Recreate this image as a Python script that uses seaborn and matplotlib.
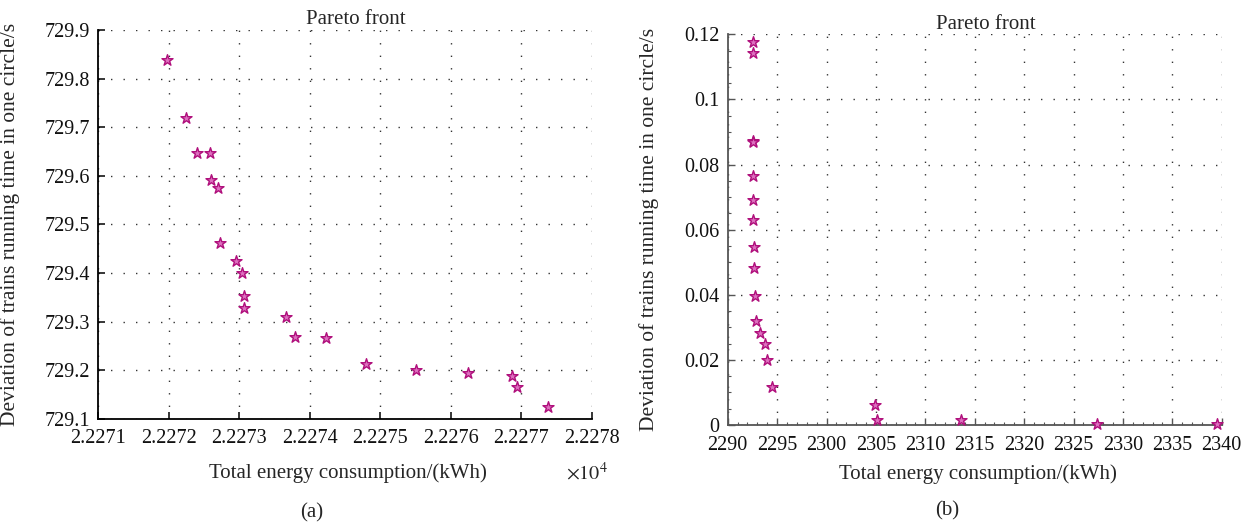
import numpy as np
import pandas as pd
import seaborn as sns
import matplotlib
matplotlib.use("Agg")
import matplotlib.pyplot as plt
from matplotlib.ticker import FuncFormatter, AutoMinorLocator

# Pareto front (a): total energy consumption (kWh) vs running-time deviation (s)
energy_a = [22271.973, 22272.251, 22272.402, 22272.586, 22272.600, 22272.700,
            22272.732, 22272.959, 22273.035, 22273.068, 22273.072, 22273.658,
            22273.795, 22274.229, 22274.796, 22275.500, 22276.245, 22276.868,
            22276.940, 22277.370]
deviation_a = [729.838, 729.719, 729.648, 729.648, 729.592, 729.576,
               729.462, 729.425, 729.400, 729.353, 729.328, 729.309,
               729.269, 729.266, 729.214, 729.200, 729.194, 729.188,
               729.165, 729.125]

# Pareto front (b)
energy_b = [2292.59, 2292.60, 2292.59, 2292.60, 2292.60, 2292.60, 2292.60,
            2292.63, 2292.66, 2292.80, 2292.83, 2293.24, 2293.78, 2293.95,
            2294.52, 2304.94, 2305.08, 2313.60, 2327.38, 2339.55]
deviation_b = [0.1175, 0.1143, 0.0873, 0.0868, 0.0766, 0.0692, 0.0631,
               0.0547, 0.0483, 0.0397, 0.0320, 0.0282, 0.0250, 0.0201,
               0.0118, 0.0061, 0.0015, 0.0015, 0.0003, 0.0002]

xticks_a = [22271, 22272, 22273, 22274, 22275, 22276, 22277, 22278]
yticks_a = [729.1, 729.2, 729.3, 729.4, 729.5, 729.6, 729.7, 729.8, 729.9]
xticks_b = [2290, 2295, 2300, 2305, 2310, 2315, 2320, 2325, 2330, 2335, 2340]
yticks_b = [0, 0.02, 0.04, 0.06, 0.08, 0.1, 0.12]

title_text = "Pareto front"
xlabel_text = "Total energy consumption/(kWh)"
ylabel_text = "Deviation of trains running time in one circle/s"

sns.set_style("white")
plt.rcParams["font.family"] = ["Liberation Serif", "DejaVu Serif"]
plt.rcParams["mathtext.fontset"] = "stix"

FS_TICK = 14.5
FS_LABEL = 15
FS_YLABEL = 15.5
star_face = "#dd70bf"
star_edge = "#b0107c"
grid_kw = dict(color="#333333", linewidth=1.0, linestyle=(0, (1, 8)))

fig = plt.figure(figsize=(12.6, 5.26), dpi=100)
W, H = 1260, 526


def axes_px(left, top, right, bottom):
    return fig.add_axes([left / W, 1 - bottom / H, (right - left) / W, (bottom - top) / H])


ax_a = axes_px(98, 30, 592, 419)
ax_b = axes_px(727.7, 34.3, 1221.7, 425)

df_a = pd.DataFrame({"energy": energy_a, "deviation": deviation_a})
df_b = pd.DataFrame({"energy": energy_b, "deviation": deviation_b})

for ax, df in ((ax_a, df_a), (ax_b, df_b)):
    sns.scatterplot(data=df, x="energy", y="deviation", ax=ax, marker="*",
                    s=70, color=star_face, edgecolor=star_edge, linewidth=1.0,
                    clip_on=False, zorder=5, legend=False)

# panel (a)
ax_a.set_xlim(22271, 22278)
ax_a.set_ylim(729.1, 729.9)
ax_a.set_xticks(xticks_a)
ax_a.set_yticks(yticks_a)
ax_a.xaxis.set_major_formatter(FuncFormatter(lambda v, p: f"{v / 1e4:.4f}"))
ax_a.yaxis.set_major_formatter(FuncFormatter(lambda v, p: f"{v:.1f}"))
for s in ("top", "right"):
    ax_a.spines[s].set_visible(False)
for s in ("left", "bottom"):
    ax_a.spines[s].set_color("black")
    ax_a.spines[s].set_linewidth(1.3)
ax_a.tick_params(direction="in", length=5, width=1.1, color="black",
                 labelsize=FS_TICK, top=False, right=False,
                 bottom=True, left=True)
ax_a.tick_params(axis="x", pad=7)
ax_a.tick_params(axis="y", pad=6)
ax_a.grid(True, **grid_kw)
fig.text(587 / W, 1 - 474 / H, r"$\times10^4$", fontsize=FS_TICK, ha="center", va="center")

# panel (b)
ax_b.set_xlim(2290, 2340)
ax_b.set_ylim(0, 0.12)
ax_b.set_xticks(xticks_b)
ax_b.set_yticks(yticks_b)
ax_b.yaxis.set_major_formatter(FuncFormatter(lambda v, p: "0" if v == 0 else f"{v:g}"))
ax_b.xaxis.set_minor_locator(AutoMinorLocator(5))
ax_b.yaxis.set_minor_locator(AutoMinorLocator(4))
for s in ("top", "right"):
    ax_b.spines[s].set_visible(False)
for s in ("left", "bottom"):
    ax_b.spines[s].set_color("#555555")
    ax_b.spines[s].set_linewidth(1.3)
ax_b.tick_params(which="major", direction="in", length=5, width=1.0, color="#555555",
                 labelsize=FS_TICK, top=False, right=False, bottom=True, left=True)
ax_b.tick_params(axis="x", which="major", pad=8)
ax_b.tick_params(axis="y", which="major", pad=6)
ax_b.tick_params(which="minor", direction="in", length=2.5, width=0.8, color="#555555",
                 top=False, right=False, bottom=True, left=True)
ax_b.grid(True, which="major", **grid_kw)

for ax in (ax_a, ax_b):
    ax.set_facecolor("white")
    ax.set_title(title_text, fontsize=FS_LABEL, x=0.522, pad=4)
    ax.set_xlabel(xlabel_text, fontsize=FS_LABEL)
    ax.set_ylabel(ylabel_text, fontsize=FS_YLABEL)
    for lab in ax.get_xticklabels() + ax.get_yticklabels():
        lab.set_color("#111111")

ax_a.xaxis.set_label_coords(0.505, -0.113)
ax_b.xaxis.set_label_coords(0.507, -0.101)
ax_a.yaxis.set_label_coords(-0.158, 0.5)
ax_b.yaxis.set_label_coords(-0.139, 0.5)

fig.text(312 / W, 1 - 513 / H, "(a)", fontsize=FS_LABEL, ha="center", va="center")
fig.text(947 / W, 1 - 511 / H, "(b)", fontsize=FS_LABEL, ha="center", va="center")

fig.savefig("out.png", dpi=100, facecolor="white")
